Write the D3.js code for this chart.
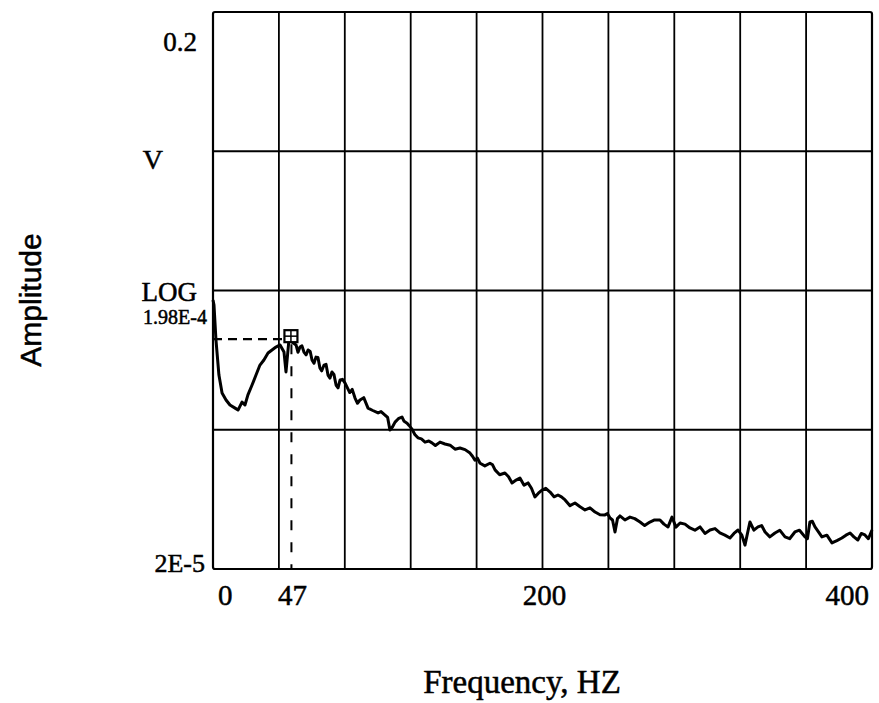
<!DOCTYPE html>
<html>
<head>
<meta charset="utf-8">
<script src="https://cdn.jsdelivr.net/npm/d3@7"></script>
<style>
  html, body { margin: 0; padding: 0; background: #fff; }
  svg { display: block; }
  text { fill: #000; stroke: #000; stroke-width: 0.5px; }
</style>
</head>
<body>
<svg id="chart" width="879" height="703"></svg>
<script>
// ---- data ----
const freqHz = [0, 0.6, 1.8, 3.6, 5.5, 7.9, 10.3, 13.4, 15.2, 17.6, 19.4, 21.2, 23.7, 26.1, 28.5, 30.9, 33.4, 35.8, 38.2, 40.7, 43.1, 44.3, 46.1, 48.0, 50.4, 51.6, 52.8, 54.0, 55.2, 56.5, 57.7, 59.0, 60.1, 61.3, 62.5, 63.7, 64.9, 66.0, 67.4, 68.6, 69.8, 71.0, 72.2, 73.4, 74.7, 75.9, 77.1, 78.6, 80.1, 83.0, 84.5, 86.2, 87.7, 89.2, 91.5, 94.1, 97.0, 100.2, 102.0, 104.4, 106.0, 107.4, 109.0, 110.5, 112.5, 114.7, 116.0, 117.8, 119.0, 120.8, 122.5, 124.4, 126.5, 128.7, 131.0, 132.9, 135.0, 137.8, 140.8, 143.9, 146.9, 149.9, 153.0, 156.0, 157.5, 159.0, 160.5, 162.1, 165.0, 168.1, 169.7, 171.2, 174.0, 177.2, 179.4, 181.5, 184.0, 186.3, 188.8, 191.2, 193.3, 195.4, 197.5, 199.7, 202.0, 204.6, 207.0, 209.4, 211.5, 213.7, 216.7, 219.7, 222.8, 225.8, 228.8, 231.9, 234.9, 237.9, 239.4, 241.0, 242.5, 244.0, 245.5, 247.0, 250.0, 253.1, 256.0, 259.2, 262.0, 265.2, 268.0, 271.3, 273.7, 276.2, 278.6, 281.0, 283.5, 286.5, 289.5, 292.5, 295.6, 298.6, 301.7, 304.7, 307.7, 310.7, 313.8, 316.2, 318.7, 321.0, 322.9, 325.9, 328.3, 330.8, 333.0, 335.1, 338.0, 341.1, 344.0, 347.2, 350.0, 353.2, 356.0, 359.3, 360.8, 362.3, 363.8, 365.4, 367.5, 369.6, 372.6, 375.7, 378.7, 381.7, 384.2, 386.7, 389.0, 391.4, 393.5, 395.7, 397.8, 400];
const amplitudeV = [1.71e-3, 1.57e-3, 8.83e-4, 4.94e-4, 3.67e-4, 3.27e-4, 3.01e-4, 2.86e-4, 2.77e-4, 3.16e-4, 3.01e-4, 3.56e-4, 4.19e-4, 4.94e-4, 5.83e-4, 6.34e-4, 7.11e-4, 7.48e-4, 7.85e-4, 8.13e-4, 7.23e-4, 5.20e-4, 8.83e-4, 8.53e-4, 8.13e-4, 7.2e-4, 7.85e-4, 8.0e-4, 7.23e-4, 6.9e-4, 7.48e-4, 7.3e-4, 6.34e-4, 6.0e-4, 6.65e-4, 6.6e-4, 5.55e-4, 5.3e-4, 5.83e-4, 5.9e-4, 4.94e-4, 4.7e-4, 5.20e-4, 5.0e-4, 4.19e-4, 4.0e-4, 4.55e-4, 4.6e-4, 4.34e-4, 3.7e-4, 3.9e-4, 3.38e-4, 3.1e-4, 3.27e-4, 3.4e-4, 2.86e-4, 2.75e-4, 2.64e-4, 2.7e-4, 2.55e-4, 2.45e-4, 1.99e-4, 2.1e-4, 2.27e-4, 2.4e-4, 2.47e-4, 2.3e-4, 2.23e-4, 2.15e-4, 2.02e-4, 1.85e-4, 1.75e-4, 1.72e-4, 1.63e-4, 1.66e-4, 1.61e-4, 1.54e-4, 1.63e-4, 1.58e-4, 1.55e-4, 1.45e-4, 1.48e-4, 1.44e-4, 1.36e-4, 1.29e-4, 1.21e-4, 1.25e-4, 1.15e-4, 1.10e-4, 1.15e-4, 1.12e-4, 1.03e-4, 9.5e-5, 9.78e-5, 9.2e-5, 8.30e-5, 8.7e-5, 9.01e-5, 8.0e-5, 8.30e-5, 7.6e-5, 6.58e-5, 7.0e-5, 7.38e-5, 7.6e-5, 7.14e-5, 6.6e-5, 6.80e-5, 6.6e-5, 6.27e-5, 5.7e-5, 5.96e-5, 5.6e-5, 5.31e-5, 5.5e-5, 5.13e-5, 4.9e-5, 4.89e-5, 5.0e-5, 4.65e-5, 4.5e-5, 3.69e-5, 4.6e-5, 4.81e-5, 4.5e-5, 4.72e-5, 4.6e-5, 4.35e-5, 4.1e-5, 4.35e-5, 4.5e-5, 4.50e-5, 4.2e-5, 4.01e-5, 4.72e-5, 4.0e-5, 4.28e-5, 4.2e-5, 3.94e-5, 3.8e-5, 4.01e-5, 3.6e-5, 3.81e-5, 3.9e-5, 3.63e-5, 3.5e-5, 3.34e-5, 3.6e-5, 3.81e-5, 3.5e-5, 2.97e-5, 4.35e-5, 3.8e-5, 4.01e-5, 4.1e-5, 3.69e-5, 3.4e-5, 3.63e-5, 3.8e-5, 3.40e-5, 3.3e-5, 3.69e-5, 3.8e-5, 3.40e-5, 3.3e-5, 4.35e-5, 4.4e-5, 4.01e-5, 3.7e-5, 3.40e-5, 3.5e-5, 3.08e-5, 3.2e-5, 3.34e-5, 3.5e-5, 3.63e-5, 3.4e-5, 3.23e-5, 3.6e-5, 3.51e-5, 3.3e-5, 3.81e-5];
const xTickValues = [0, 40, 80, 120, 160, 200, 240, 280, 320, 360, 400];
const yTickValues = [2e-5, 2e-4, 2e-3, 2e-2, 0.2];
const xTickLabels = [{v: 0, t: "0", a: "start"}, {v: 47, t: "47", a: "middle"}, {v: 200, t: "200", a: "middle"}, {v: 400, t: "400", a: "end"}];
const markerFreq = 47;
const markerAmp = 9.4e-4;
const markerLabel = "1.98E-4";

// ---- layout ----
const L = 213, R = 872, T = 12, B = 569;
const svg = d3.select("#chart");
const x = d3.scaleLinear().domain([0, 400]).range([L, R]);
const y = d3.scaleLog().domain([2e-5, 0.2]).range([B, T]);

// grid
const g = svg.append("g");
g.selectAll("line.vx").data(xTickValues.slice(1, -1)).join("line")
  .attr("x1", d => x(d)).attr("x2", d => x(d))
  .attr("y1", T).attr("y2", B)
  .attr("stroke", "#000").attr("stroke-width", 1.8);
g.selectAll("line.hy").data(yTickValues.slice(1, -1)).join("line")
  .attr("x1", L).attr("x2", R)
  .attr("y1", d => y(d)).attr("y2", d => y(d))
  .attr("stroke", "#000").attr("stroke-width", 1.8);
// frame
g.append("rect").attr("x", L).attr("y", T).attr("width", R - L).attr("height", B - T)
  .attr("rx", 2)
  .attr("fill", "none").attr("stroke", "#000").attr("stroke-width", 2.2);

// curve
const pts = freqHz.map((f, i) => [f, amplitudeV[i]]);
svg.append("path").datum(pts)
  .attr("d", d3.line().x(d => x(d[0])).y(d => y(d[1])))
  .attr("fill", "none").attr("stroke", "#000").attr("stroke-width", 3)
  .attr("stroke-linejoin", "round");

// cursor
const mx = x(markerFreq), my = y(markerAmp);
svg.append("line").attr("x1", L).attr("x2", mx - 8).attr("y1", my + 3).attr("y2", my + 3)
  .attr("stroke", "#000").attr("stroke-width", 2.2).attr("stroke-dasharray", "9,6");
svg.append("line").attr("x1", mx + 1).attr("x2", mx + 1).attr("y1", my + 8).attr("y2", B)
  .attr("stroke", "#000").attr("stroke-width", 2).attr("stroke-dasharray", "10,12");
svg.append("rect").attr("x", mx - 6).attr("y", my - 6).attr("width", 13).attr("height", 12)
  .attr("fill", "#fff").attr("stroke", "#000").attr("stroke-width", 2.2);
svg.append("line").attr("x1", mx + 0.5).attr("x2", mx + 0.5).attr("y1", my - 6).attr("y2", my + 6)
  .attr("stroke", "#000").attr("stroke-width", 1.5);
svg.append("line").attr("x1", mx - 6).attr("x2", mx + 7).attr("y1", my).attr("y2", my)
  .attr("stroke", "#000").attr("stroke-width", 1.5);

// y-side labels
const serif = "'Liberation Serif', 'Times New Roman', serif";
const ylab = svg.append("g").attr("font-family", serif);
ylab.append("text").attr("x", 197).attr("y", y(0.2) + 39).attr("text-anchor", "end")
  .attr("font-size", 27).text("0.2");
ylab.append("text").attr("x", 163).attr("y", y(2e-2) + 18).attr("text-anchor", "end")
  .attr("font-size", 28).text("V");
ylab.append("text").attr("x", 197).attr("y", y(2e-3) + 10).attr("text-anchor", "end")
  .attr("font-size", 27).text("LOG");
ylab.append("text").attr("x", 207).attr("y", my - 12).attr("text-anchor", "end")
  .attr("font-size", 20).text(markerLabel);
ylab.append("text").attr("x", 205).attr("y", y(2e-5) + 3).attr("text-anchor", "end")
  .attr("font-size", 26).text("2E-5");

// x labels
const xl = svg.append("g").attr("font-family", serif).attr("font-size", 29);
xl.selectAll("text").data(xTickLabels).join("text")
  .attr("x", d => d.a === "start" ? x(d.v) + 5 : d.a === "end" ? x(d.v) - 3 : x(d.v) + 2)
  .attr("y", B + 36)
  .attr("text-anchor", d => d.a)
  .text(d => d.t);

// titles
svg.append("text").attr("x", 522).attr("y", 693).attr("text-anchor", "middle")
  .attr("font-family", serif).attr("font-size", 33).text("Frequency, HZ");
svg.append("text").attr("transform", "translate(41,300) rotate(-90)")
  .attr("text-anchor", "middle").attr("font-family", "'Liberation Sans', Arial, sans-serif")
  .attr("font-size", 30).text("Amplitude");
</script>
</body>
</html>
